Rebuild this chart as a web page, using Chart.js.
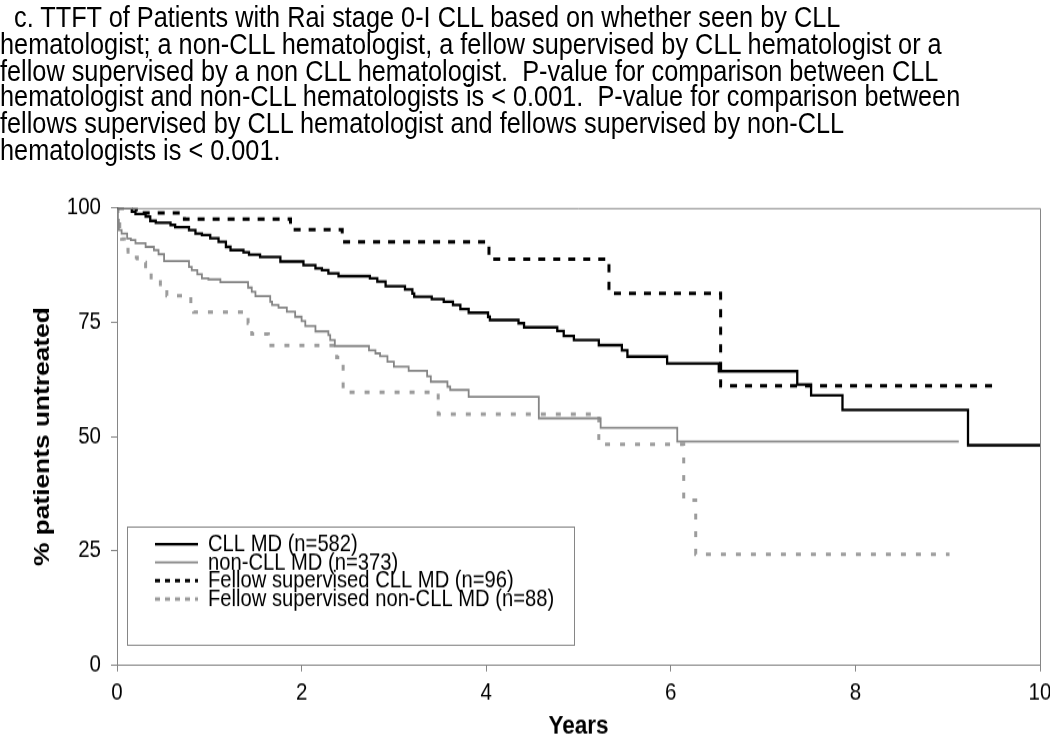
<!DOCTYPE html>
<html>
<head>
<meta charset="utf-8">
<script src="https://cdn.jsdelivr.net/npm/chart.js@4.4.1/dist/chart.umd.min.js"></script>
<style>
  html, body { margin: 0; padding: 0; background: #fff; }
  body { width: 1050px; height: 741px; }
  /* the source figure is stretched vertically, so draw flat and stretch */
  #stage { position: relative; width: 1050px; height: 633px; transform: scaleY(1.17); transform-origin: 0 0; }
  #caption {
    position: absolute; left: 0; top: 3px; margin: 0;
    font: 25.3px/22.8px 'Liberation Sans', Arial, sans-serif; color: #000;
    white-space: pre; text-indent: 14px;
  }
  canvas { position: absolute; left: 0; top: 0; }
</style>
</head>
<body>
<div id="stage">
  <canvas id="ttftChart" width="1050" height="633"></canvas>
  <div id="caption">c. TTFT of Patients with Rai stage 0-I CLL based on whether seen by CLL
hematologist; a non-CLL hematologist, a fellow supervised by CLL hematologist or a
fellow supervised by a non CLL hematologist.  P-value for comparison between CLL
hematologist and non-CLL hematologists is &lt; 0.001.  P-value for comparison between
fellows supervised by CLL hematologist and fellows supervised by non-CLL
hematologists is &lt; 0.001.</div>
</div>
<script>
// ---- Kaplan-Meier steps (years, % untreated) ----
const cllYears = [0, 0.16, 0.20, 0.31, 0.36, 0.42, 0.58, 0.63, 0.78, 0.85, 0.92, 1.01, 1.10, 1.18, 1.23, 1.37, 1.43, 1.55, 1.77,
  2.02, 2.15, 2.22, 2.29, 2.40, 2.74, 2.82, 2.91, 3.12, 3.20, 3.22, 3.41, 3.54, 3.64, 3.72, 3.81, 4.02, 4.04, 4.35, 4.41,
  4.77, 4.84, 4.95, 5.22, 5.47, 5.53, 5.96, 6.52, 7.37, 7.52, 7.86, 9.22, 10.0];
const cllPct = [100, 99.2, 98.7, 98.1, 97.2, 96.8, 96.3, 95.8, 95.2, 94.4, 94.1, 93.4, 92.6, 91.5, 90.8, 90.3, 89.8, 89.3, 88.3,
  87.5, 86.8, 86.4, 85.7, 85.1, 84.6, 83.9, 82.9, 82.2, 81.3, 80.6, 80.1, 79.5, 78.8, 77.9, 77.1, 76.2, 75.5, 74.8, 73.9,
  73.1, 72.0, 71.1, 70.0, 68.9, 67.5, 66.0, 64.3, 61.4, 59.0, 55.8, 48.1, 48.1];

const nonCllYears = [0, 0.01, 0.02, 0.05, 0.11, 0.15, 0.20, 0.31, 0.40, 0.45, 0.51, 0.78, 0.81, 0.87, 0.92, 0.99, 1.12,
  1.42, 1.46, 1.50, 1.66, 1.68, 1.75, 1.84, 1.93, 2.00, 2.04, 2.15, 2.29, 2.31, 2.36, 2.73, 2.80, 2.85, 2.93, 3.00,
  3.16, 3.36, 3.40, 3.58, 3.61, 3.81, 4.57, 5.24, 6.07, 9.12];
const nonCllPct = [100, 97.4, 95.2, 94.4, 93.3, 93.0, 92.3, 91.5, 90.8, 89.9, 88.4, 87.1, 86.4, 85.5, 84.6, 84.4, 83.8,
  82.6, 81.7, 80.7, 79.5, 78.8, 78.2, 77.3, 76.2, 75.3, 74.2, 73.0, 72.2, 71.1, 69.8, 68.9, 68.2, 67.6, 66.4, 65.3,
  64.4, 63.2, 62.0, 60.9, 60.2, 58.7, 54.0, 51.9, 48.9, 48.9];

const fellowCllYears = [0, 0.21, 0.73, 1.88, 2.44, 4.03, 5.33, 6.54, 9.49];
const fellowCllPct = [100, 98.9, 97.6, 95.3, 92.6, 88.8, 81.3, 61.1, 61.1];

const fellowNonCllYears = [0, 0.01, 0.03, 0.05, 0.08, 0.12, 0.22, 0.31, 0.37, 0.47, 0.54, 0.80, 0.83, 1.42, 1.46, 1.64,
  2.38, 2.45, 3.48, 5.22, 6.14, 6.27, 9.02];
const fellowNonCllPct = [100, 97.7, 95.5, 93.2, 90.9, 89.2, 88.1, 86.0, 84.4, 82.8, 80.8, 78.5, 77.2, 74.8, 72.4, 69.9,
  67.3, 59.7, 54.9, 48.3, 36.1, 24.2, 24.2];

const seriesLabels = ['CLL MD (n=582)', 'non-CLL MD (n=373)', 'Fellow supervised CLL MD (n=96)', 'Fellow supervised non-CLL MD (n=88)'];
const xTicks = [0, 2, 4, 6, 8, 10];
const yTicks = [0, 25, 50, 75, 100];

const toPoints = (xs, ys) => xs.map((x, i) => ({ x, y: ys[i] }));
const AXIS_GREY = '#868686';
const FONT = "'Liberation Sans', Arial, sans-serif";

// ---- frame on top/right + boxed key inside the plot ----
const frameAndKey = {
  id: 'frameAndKey',
  afterDatasetsDraw(chart) {
    const { ctx, chartArea: a } = chart;
    ctx.save();
    ctx.strokeStyle = AXIS_GREY;
    ctx.lineWidth = 1;
    ctx.beginPath();
    ctx.moveTo(a.left, a.top + 0.5);
    ctx.lineTo(a.right + 0.5, a.top + 0.5);
    ctx.lineTo(a.right + 0.5, a.bottom);
    ctx.stroke();
    ctx.restore();
  },
  afterDraw(chart) {
    const { ctx } = chart;
    const box = { x: 127.5, y: 450.5, w: 447, h: 101 };
    const rows = [465.2, 480.6, 496.3, 512.0];
    ctx.save();
    ctx.fillStyle = '#fff';
    ctx.fillRect(box.x, box.y, box.w, box.h);
    ctx.strokeStyle = AXIS_GREY;
    ctx.lineWidth = 1;
    ctx.strokeRect(box.x, box.y, box.w, box.h);
    ctx.font = '20.2px ' + FONT;
    ctx.textBaseline = 'middle';
    ctx.fillStyle = '#000';
    chart.data.datasets.forEach((ds, i) => {
      const y = rows[i];
      ctx.beginPath();
      ctx.strokeStyle = ds.borderColor;
      ctx.lineWidth = ds.borderWidth;
      ctx.setLineDash(ds.borderDash ? [5, 5] : []);
      ctx.moveTo(155, y);
      ctx.lineTo(198, y);
      ctx.stroke();
      ctx.setLineDash([]);
      ctx.fillText(ds.label, 208, y + 0.5);
    });
    ctx.restore();
  }
};

new Chart(document.getElementById('ttftChart'), {
  type: 'line',
  data: {
    datasets: [
      {
        label: seriesLabels[0], data: toPoints(cllYears, cllPct),
        borderColor: '#000', borderWidth: 2.3, stepped: true, pointRadius: 0, fill: false,
      },
      {
        label: seriesLabels[1], data: toPoints(nonCllYears, nonCllPct),
        borderColor: '#858585', borderWidth: 1.8, stepped: true, pointRadius: 0, fill: false,
      },
      {
        label: seriesLabels[2], data: toPoints(fellowCllYears, fellowCllPct),
        borderColor: '#000', borderWidth: 3, borderDash: [7, 8], stepped: true, pointRadius: 0, fill: false,
      },
      {
        label: seriesLabels[3], data: toPoints(fellowNonCllYears, fellowNonCllPct),
        borderColor: '#9c9c9c', borderWidth: 3, borderDash: [5, 10], stepped: true, pointRadius: 0, fill: false,
      },
    ]
  },
  options: {
    responsive: false, animation: false, devicePixelRatio: 1,
    layout: { padding: { top: 177.8, right: 10, bottom: 0, left: 0 } },
    plugins: { legend: { display: false }, tooltip: { enabled: false } },
    scales: {
      x: {
        type: 'linear', min: 0, max: 10,
        afterBuildTicks: axis => { axis.ticks = xTicks.map(v => ({ value: v })); },
        afterFit: axis => { axis.height = 64.6; axis.paddingLeft = 0; axis.paddingRight = 0; },
        ticks: { color: '#000', font: { family: FONT, size: 20.5 }, padding: 6.6, maxRotation: 0 },
        grid: { drawOnChartArea: false, tickLength: 5.5, color: AXIS_GREY },
        border: { color: AXIS_GREY, width: 1 },
        title: {
          display: true, text: 'Years', color: '#000',
          font: { family: FONT, size: 22.5, weight: 'bold', lineHeight: 1 },
          padding: { top: 0, bottom: 0.6 }
        }
      },
      y: {
        min: 0, max: 100,
        afterBuildTicks: axis => { axis.ticks = yTicks.map(v => ({ value: v })); },
        afterFit: axis => { axis.width = 117; axis.paddingTop = 0; axis.paddingBottom = 0; },
        ticks: { color: '#000', font: { family: FONT, size: 20.5 }, padding: 10 },
        grid: { drawOnChartArea: false, tickLength: 6, color: AXIS_GREY },
        border: { color: AXIS_GREY, width: 1 },
        title: {
          display: true, text: '% patients untreated', color: '#000',
          font: { family: FONT, size: 22.5, weight: 'bold', lineHeight: 1 },
          padding: { top: 32, bottom: 0 }
        }
      }
    }
  },
  plugins: [frameAndKey]
});
</script>
</body>
</html>
